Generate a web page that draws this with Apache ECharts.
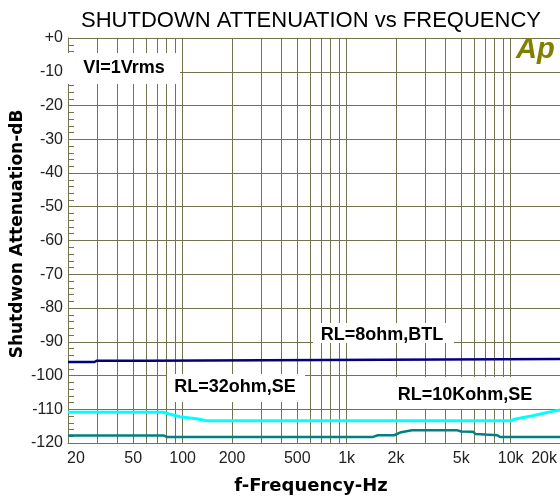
<!DOCTYPE html>
<html>
<head>
<meta charset="utf-8">
<script src="https://cdn.jsdelivr.net/npm/echarts@6/dist/echarts.min.js"></script>
<style>
  html, body { margin: 0; padding: 0; background: #fff; }
  #main { width: 560px; height: 499px; }
</style>
</head>
<body>
<div id="main"></div>
<script>
// frequency grid and tick labels
const gridFreqs = [20, 30, 40, 50, 60, 70, 80, 90, 100, 200, 300, 400, 500, 600, 700, 800, 900,
  1000, 2000, 3000, 4000, 5000, 6000, 7000, 8000, 9000, 10000, 20000];
const tickFreqs = [20, 50, 100, 200, 500, 1000, 2000, 5000, 10000, 20000];
const tickLabels = ['20', '50', '100', '200', '500', '1k', '2k', '5k', '10k', '20k'];

// RL=8ohm,BTL
const btlFreq = [20, 29, 30, 60, 61, 20000];
const btlDb = [-96.0, -96.0, -95.6, -95.6, -95.1, -95.1];

// RL=32ohm,SE
const se32Freq = [20, 76, 83, 96, 121, 140, 10000, 10700, 13400, 17700, 20000];
const se32Db = [-110.9, -110.9, -111.4, -112.2, -112.8, -113.4, -113.4, -112.9, -112.0, -110.7, -110.2];

// RL=10Kohm,SE
const se10kFreq = [20, 77, 80, 1450, 1550, 1950, 2150, 2500, 4700, 5000, 5900, 6100, 7000, 8300, 8600, 20000];
const se10kDb = [-117.8, -117.8, -118.2, -118.2, -117.7, -117.7, -116.8, -116.2, -116.2, -116.6, -116.7, -117.3, -117.5, -117.7, -118.2, -118.2];

const gridColor = '#73734f';
const pair = (xs, ys) => xs.map((x, i) => [x, ys[i]]);

let chart = echarts.init(document.getElementById('main'));

let option = {
  animation: false,
  backgroundColor: '#fff',
  title: {
    text: 'SHUTDOWN ATTENUATION vs FREQUENCY',
    left: 76,
    top: 5,
    textStyle: { fontFamily: 'Liberation Sans', fontSize: 22, fontWeight: 'normal', color: '#000' }
  },
  grid: { left: 68, right: -2, top: 38, bottom: 56 },
  xAxis: {
    type: 'log',
    logBase: 10,
    min: 20,
    max: 20000,
    axisLine: { show: true, onZero: false, lineStyle: { color: gridColor, width: 1 } },
    axisTick: { show: false },
    axisLabel: { show: false },
    splitLine: { show: false }
  },
  yAxis: {
    type: 'value',
    min: -120,
    max: 0,
    interval: 10,
    axisLine: { show: true, lineStyle: { color: gridColor, width: 1 } },
    axisTick: { show: false, inside: true },
    minorTick: { show: true, splitNumber: 5, length: 6, lineStyle: { color: gridColor, width: 1 } },
    axisLabel: {
      margin: 5,
      fontFamily: 'Liberation Sans',
      fontSize: 16,
      color: '#222',
      formatter: (v) => (v === 0 ? '+0' : String(v))
    },
    splitLine: { show: true, lineStyle: { color: gridColor, width: 1 } }
  },
  series: [
    {
      // vertical grid lines on the log axis
      type: 'line',
      data: [],
      z: 1,
      silent: true,
      markLine: {
        silent: true,
        symbol: 'none',
        label: { show: false },
        lineStyle: { color: gridColor, width: 1, type: 'solid' },
        data: gridFreqs.map((f) => ({ xAxis: f }))
      }
    },
    {
      name: 'RL=8ohm,BTL',
      type: 'line',
      z: 5,
      showSymbol: false,
      data: pair(btlFreq, btlDb),
      lineStyle: { color: '#000080', width: 2.5 }
    },
    {
      name: 'RL=32ohm,SE',
      type: 'line',
      z: 5,
      showSymbol: false,
      data: pair(se32Freq, se32Db),
      lineStyle: { color: '#00ffff', width: 3 }
    },
    {
      name: 'RL=10Kohm,SE',
      type: 'line',
      z: 5,
      showSymbol: false,
      data: pair(se10kFreq, se10kDb),
      lineStyle: { color: '#008080', width: 2.5 }
    }
  ]
};
chart.setOption(option);

// boxed notes inside the plot
const boxFont = 'bold 18px "Liberation Sans"';
const notes = [
  { text: 'Vl=1Vrms', box: [68, 53, 112, 31], cx: 124, cy: 68 },
  { text: 'RL=8ohm,BTL', box: [313, 323, 141, 20], cx: 382, cy: 335 },
  { text: 'RL=32ohm,SE', box: [167, 374, 138, 28], cx: 235, cy: 387 },
  { text: 'RL=10Kohm,SE', box: [389, 377, 165, 32], cx: 465, cy: 395 }
];

let elements = [];
notes.forEach((n) => {
  elements.push({
    type: 'rect', z: 100, silent: true,
    shape: { x: n.box[0], y: n.box[1], width: n.box[2], height: n.box[3] },
    style: { fill: '#fff' }
  });
  elements.push({
    type: 'text', z: 101, silent: true,
    style: { text: n.text, x: n.cx, y: n.cy, font: boxFont, fill: '#000', textAlign: 'center', textVerticalAlign: 'middle' }
  });
});

// x tick labels placed through the log scale
const bottomY = chart.convertToPixel({ gridIndex: 0 }, [20, -120])[1];
tickFreqs.forEach((f, i) => {
  let px = chart.convertToPixel({ gridIndex: 0 }, [f, -120])[0];
  let align = 'center';
  if (i === 0) { align = 'left'; px = px - 1; }
  if (i === tickFreqs.length - 1) { align = 'right'; px = 557; }
  elements.push({
    type: 'text', z: 101, silent: true,
    style: {
      text: tickLabels[i], x: px, y: bottomY + 8,
      font: '16px "Liberation Sans"', fill: '#222', textAlign: align, textVerticalAlign: 'top'
    }
  });
});

// axis names and logo
elements.push({
  type: 'text', z: 101, silent: true,
  style: { text: 'f-Frequency-Hz', x: 311, y: 486, font: 'bold 18px "DejaVu Sans"', fill: '#000', textAlign: 'center', textVerticalAlign: 'middle' }
});
elements.push({
  type: 'text', z: 101, silent: true, x: 18, y: 234, rotation: Math.PI / 2,
  style: { text: 'Shutdwon Attenuation-dB', x: 0, y: 0, font: 'bold 17px "DejaVu Sans"', fill: '#000', textAlign: 'center', textVerticalAlign: 'middle' }
});
elements.push({
  type: 'text', z: 101, silent: true,
  style: { text: 'Ap', x: 516, y: 35, font: 'italic bold 29px "Liberation Sans"', fill: '#808000', textAlign: 'left', textVerticalAlign: 'top' }
});

chart.setOption({ graphic: { elements: elements } });
</script>
</body>
</html>
